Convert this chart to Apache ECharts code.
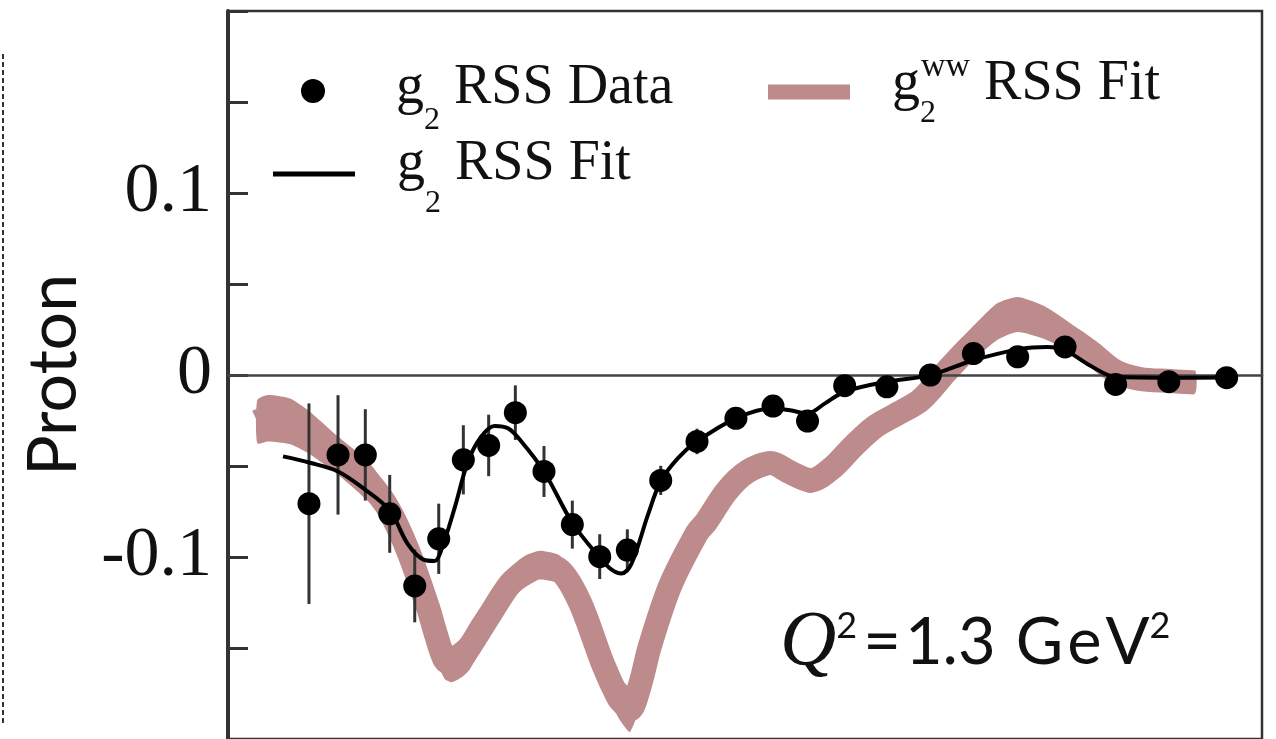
<!DOCTYPE html>
<html>
<head>
<meta charset="utf-8">
<script src="https://cdn.jsdelivr.net/npm/echarts@6/dist/echarts.min.js"></script>
<style>
  html, body { margin: 0; padding: 0; background: #fff; }
  #chart { width: 1276px; height: 739px; }
</style>
</head>
<body>
<div id="chart"></div>
<script>
// Measured g2 (RSS) for the proton, horizontal coordinate normalised to the panel width
const dataX = [0.0783, 0.1064, 0.1328, 0.1564, 0.1806, 0.2038, 0.2276, 0.2521, 0.2779,
  0.3056, 0.3330, 0.3595, 0.3862, 0.4185, 0.4536, 0.4912, 0.5271, 0.5605, 0.5964,
  0.6372, 0.6793, 0.7209, 0.7637, 0.8095, 0.8584, 0.9099, 0.9658];
const dataY = [-0.0707, -0.0439, -0.0439, -0.0763, -0.1159, -0.0900, -0.0466, -0.0387, -0.0207,
  -0.0530, -0.0822, -0.0998, -0.0962, -0.0579, -0.0365, -0.0238, -0.0171, -0.0253, -0.0059,
  -0.0065, 0.0000, 0.0118, 0.0100, 0.0154, -0.0052, -0.0037, -0.0015];
const dataErr = [0.0551, 0.0328, 0.0251, 0.0214, 0.0200, 0.0193, 0.0190, 0.0169, 0.0150,
  0.0140, 0.0132, 0.0123, 0.0114, 0.0080, 0.0070, 0.0050, 0.0050, 0.0050, 0.0050,
  0.0040, 0.0040, 0.0040, 0.0040, 0.0040, 0.0040, 0.0030, 0.0030];

// g2 RSS fit curve
const fitX = [0.0532, 0.0793, 0.1064, 0.1325, 0.1564, 0.1741, 0.1886, 0.1999, 0.2060, 0.2192,
  0.2321, 0.2450, 0.2579, 0.2708, 0.2837, 0.3056, 0.3330, 0.3595, 0.3707, 0.3804, 0.3900,
  0.4062, 0.4185, 0.4352, 0.4536, 0.4912, 0.5271, 0.5435, 0.5605, 0.5774, 0.5964, 0.6373,
  0.6793, 0.7209, 0.7679, 0.7921, 0.8095, 0.8332, 0.8584, 0.9099, 0.9658];
const fitY = [-0.0447, -0.0482, -0.0530, -0.0630, -0.0745, -0.0931, -0.1013, -0.1022, -0.0966, -0.0730,
  -0.0475, -0.0338, -0.0280, -0.0293, -0.0365, -0.0530, -0.0812, -0.1004, -0.1068, -0.1091, -0.1040,
  -0.0767, -0.0584, -0.0457, -0.0365, -0.0238, -0.0183, -0.0194, -0.0211, -0.0156, -0.0092, -0.0037,
  -0.0001, 0.0081, 0.0145, 0.0154, 0.0136, 0.0054, -0.0010, -0.0015, -0.0014];

// g2^WW RSS fit band (lower / upper edges)
const wwX = [0.0283, 0.0387, 0.0600, 0.0774, 0.1064, 0.1354, 0.1547, 0.1741, 0.1934, 0.2012, 0.2096,
  0.2166, 0.2263, 0.2340, 0.2534, 0.2727, 0.2872, 0.3017, 0.3211, 0.3404, 0.3627, 0.3772,
  0.3830, 0.3888, 0.3985, 0.4081, 0.4275, 0.4536, 0.4618, 0.4822, 0.5026, 0.5250, 0.5435, 0.5638,
  0.5841, 0.6044, 0.6248, 0.6451, 0.6699, 0.6944, 0.7186, 0.7433, 0.7637, 0.7882, 0.8085,
  0.8332, 0.8576, 0.8820, 0.9106, 0.9352];
const wwUpper = [-0.0138, -0.0110, -0.0129, -0.0193, -0.0338, -0.0475, -0.0621, -0.0856, -0.1150, -0.1290, -0.1458,
  -0.1487, -0.1441, -0.1365, -0.1206, -0.1059, -0.0993, -0.0966, -0.0993, -0.1152, -0.1480, -0.1660,
  -0.1690, -0.1715, -0.1578, -0.1387, -0.1059, -0.0785, -0.0712, -0.0548, -0.0457, -0.0420, -0.0466, -0.0511,
  -0.0439, -0.0329, -0.0211, -0.0165, -0.0074, 0.0090, 0.0254, 0.0391, 0.0428, 0.0382, 0.0309,
  0.0200, 0.0090, 0.0039, 0.0026, 0.0018];
const wwLower = [-0.0375, -0.0365, -0.0380, -0.0429, -0.0548, -0.0694, -0.0840, -0.1075, -0.1403, -0.1565, -0.1670,
  -0.1688, -0.1660, -0.1617, -0.1425, -0.1239, -0.1168, -0.1124, -0.1152, -0.1348, -0.1699, -0.1879,
  -0.1928, -0.1961, -0.1824, -0.1589, -0.1261, -0.0949, -0.0912, -0.0730, -0.0603, -0.0548, -0.0603, -0.0648,
  -0.0584, -0.0457, -0.0364, -0.0275, -0.0201, -0.0056, 0.0072, 0.0190, 0.0236, 0.0200, 0.0145,
  0.0063, -0.0046, -0.0083, -0.0092, -0.0101];

// y-axis tick labels
const yLabelValues = [-0.1, 0, 0.1];
const yLabelTexts = ['-0.1', '0', '0.1'];

const BAND = '#bd8b8b';
const INK = '#111';
const SERIF = 'Liberation Serif';
const SANS = 'Lato';

const chart = echarts.init(document.getElementById('chart'), null, { renderer: 'canvas' });

const pairs = (xs, ys) => xs.map((x, i) => [x, ys[i]]);

// Rich-text styles for the legend entries (subscript 2, superscript ww)
function legendRich(mainPadBottom, subPadTop, supPadBottom) {
  return {
    m: { fontFamily: SERIF, fontSize: 56, lineHeight: 60, color: INK, verticalAlign: 'middle', padding: [0, 0, mainPadBottom, 0] },
    s: { fontFamily: SERIF, fontSize: 32, lineHeight: 34, color: INK, verticalAlign: 'middle', padding: [subPadTop, 0, 0, 0] },
    s0: { fontFamily: SERIF, fontSize: 32, lineHeight: 34, color: INK, verticalAlign: 'middle', width: 1, padding: [subPadTop, 0, 0, 0] },
    w: { fontFamily: SERIF, fontSize: 34, lineHeight: 34, color: INK, verticalAlign: 'middle', padding: [0, 0, supPadBottom || 0, 0] }
  };
}

const option = {
  animation: false,
  backgroundColor: '#fff',
  grid: {
    left: 228, right: 14, top: 11, bottom: -3,
    show: true, borderColor: '#333', borderWidth: 2.5, backgroundColor: 'transparent'
  },
  xAxis: {
    type: 'value', min: 0, max: 1, z: 3,
    axisLine: { show: true, onZero: true, lineStyle: { color: '#444', width: 2.5 } },
    axisTick: { show: false }, axisLabel: { show: false }, splitLine: { show: false }
  },
  yAxis: {
    type: 'value', min: -0.2, max: 0.2, interval: 0.05,
    name: 'Proton', nameLocation: 'middle', nameRotate: 90, nameGap: 140,
    nameTextStyle: { fontFamily: SANS, fontSize: 68, color: INK },
    axisLine: { show: true, lineStyle: { color: '#333', width: 4 } },
    axisTick: { show: true, inside: true, length: 20, lineStyle: { color: '#333', width: 3 } },
    axisLabel: {
      margin: 16, fontFamily: SERIF, fontSize: 70, color: INK,
      formatter: v => {
        const i = yLabelValues.findIndex(t => Math.abs(t - v) < 1e-9);
        return i >= 0 ? yLabelTexts[i] : '';
      }
    },
    splitLine: { show: false }
  },
  legend: [
    {
      selectedMode: false, left: 301, top: 45, padding: 0,
      itemWidth: 82, itemHeight: 24,
      data: [{ name: 'g2 RSS Data', icon: 'circle', itemStyle: { color: '#000' } }],
      formatter: () => '{m|g}{s|2}{m| RSS Data}',
      textStyle: { padding: [0, 0, 0, 37], rich: legendRich(6, 60) }
    },
    {
      selectedMode: false, left: 273, top: 128, padding: 0,
      itemWidth: 82, itemHeight: 5,
      data: [{ name: 'g2 RSS Fit', icon: 'rect', itemStyle: { color: '#000' } }],
      formatter: () => '{m|g}{s|2}{m| RSS Fit}',
      textStyle: { padding: [0, 0, 0, 37], rich: legendRich(20, 60) }
    },
    {
      selectedMode: false, left: 768, top: 50, padding: 0,
      itemWidth: 82, itemHeight: 15,
      data: [{ name: 'g2WW RSS Fit', icon: 'rect', itemStyle: { color: BAND } }],
      formatter: () => '{m|g}{s0|2}{w|ww}{m| RSS Fit}',
      textStyle: { padding: [0, 0, 0, 37], rich: legendRich(16, 43, 50) }
    }
  ],
  title: {
    left: 780, top: 608, padding: 0,
    text: '{q|Q}{p|2}{e|=}{n|1.3}{g|G}{l|e}{l|V}{p|2}',
    textStyle: {
      fontWeight: 'normal',
      rich: {
        q: { fontFamily: SERIF, fontStyle: 'italic', fontSize: 78, lineHeight: 70, color: INK, verticalAlign: 'middle' },
        p: { fontFamily: SANS, fontSize: 36, lineHeight: 36, color: INK, verticalAlign: 'middle', padding: [0, 0, 33, 0] },
        e: { fontFamily: SANS, fontSize: 65, lineHeight: 70, color: INK, verticalAlign: 'middle', padding: [0, 4, 0, 6] },
        n: { fontFamily: SANS, fontSize: 65, lineHeight: 70, color: INK, verticalAlign: 'middle' },
        g: { fontFamily: SANS, fontSize: 65, lineHeight: 70, color: INK, verticalAlign: 'middle', padding: [0, 0, 0, 20] },
        l: { fontFamily: SANS, fontSize: 65, lineHeight: 70, color: INK, verticalAlign: 'middle', padding: [0, 0, 0, 4] }
      }
    }
  },
  graphic: [
    {
      type: 'line', silent: true,
      shape: { x1: 3, y1: 54, x2: 3, y2: 723 },
      style: { stroke: '#333', lineWidth: 2, lineDash: [5, 3] }
    }
  ],
  series: [
    {
      // filled band between the lower and upper edges
      name: 'wwBand', type: 'custom', z: 2, silent: true,
      data: wwX.map((x, i) => [x, wwLower[i], wwUpper[i]]),
      encode: { x: 0, y: [1, 2] },
      renderItem: (params, api) => {
        if (params.dataIndex !== 0) return null;
        const top = wwX.map((x, i) => api.coord([x, wwUpper[i]]));
        const bottom = wwX.map((x, i) => api.coord([x, wwLower[i]])).reverse();
        return {
          type: 'polygon',
          shape: { points: top.concat(bottom), smooth: 0.2 },
          style: { fill: BAND }
        };
      }
    },
    {
      name: 'g2WW RSS Fit', type: 'line', z: 2,
      data: pairs(wwX, wwUpper.map((u, i) => (u + wwLower[i]) / 2)), smooth: 0.3, symbol: 'none', silent: true,
      color: BAND,
      lineStyle: { color: BAND, width: 24, cap: 'butt', join: 'round' }
    },
    {
      name: 'g2 errors', type: 'custom', z: 4, silent: true,
      data: dataX.map((x, i) => [x, dataY[i] - dataErr[i], dataY[i] + dataErr[i]]),
      encode: { x: 0, y: [1, 2] },
      renderItem: (params, api) => {
        const lo = api.coord([api.value(0), api.value(1)]);
        const hi = api.coord([api.value(0), api.value(2)]);
        return {
          type: 'line',
          shape: { x1: lo[0], y1: lo[1], x2: hi[0], y2: hi[1] },
          style: { stroke: '#333', lineWidth: 3 }
        };
      }
    },
    {
      name: 'g2 RSS Fit', type: 'line', z: 5,
      data: pairs(fitX, fitY), smooth: 0.35, symbol: 'none', silent: true,
      color: '#000',
      lineStyle: { color: '#000', width: 4 }
    },
    {
      name: 'g2 RSS Data', type: 'scatter', z: 6,
      data: pairs(dataX, dataY), symbol: 'circle', symbolSize: 23, silent: true,
      itemStyle: { color: '#000', opacity: 1 }
    }
  ]
};

chart.setOption(option);
</script>
</body>
</html>
